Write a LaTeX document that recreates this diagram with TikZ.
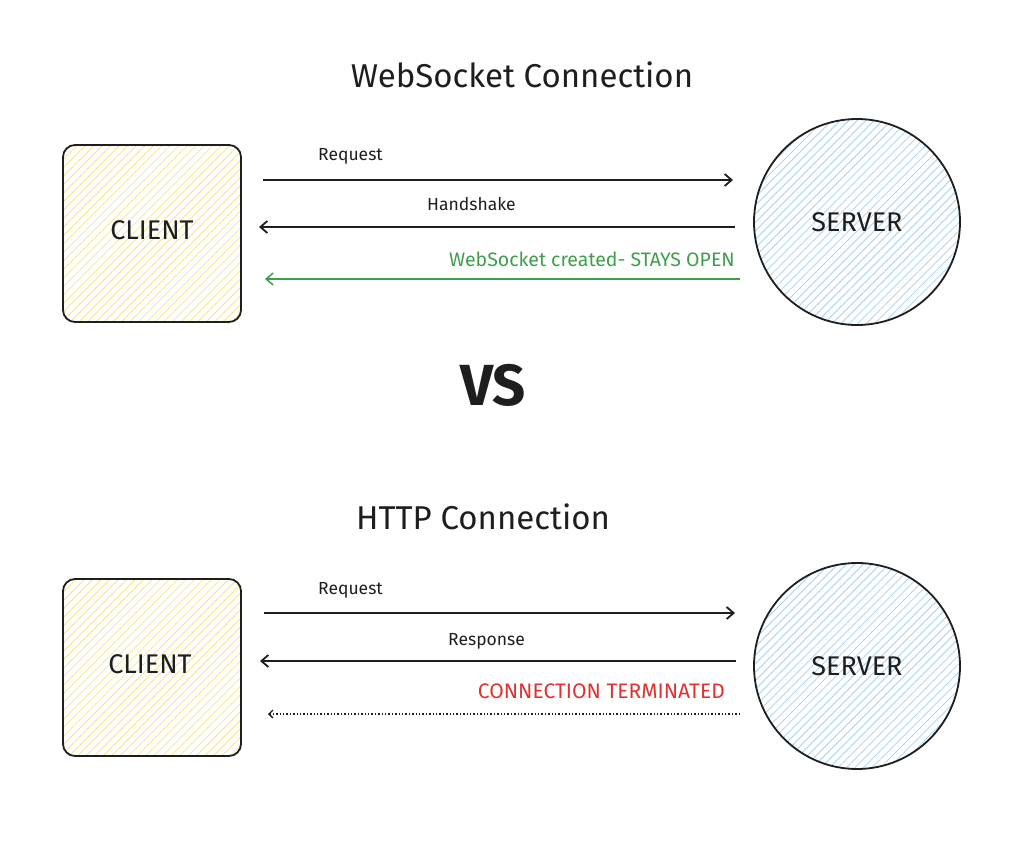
\documentclass[tikz,border=0pt]{standalone}
\usepackage{fontspec}
\setmainfont{Fira Sans}
\usetikzlibrary{arrows.meta,patterns.meta}
\definecolor{ink}{HTML}{1E1E1E}
\definecolor{cyel}{HTML}{F7E48A}
\definecolor{cblue}{HTML}{A5D0F2}
\definecolor{cgreen}{HTML}{3E9E4A}
\definecolor{cred}{HTML}{E03131}
\tikzset{
  clientbox/.style={draw=ink, line width=1.8pt, rounded corners=12pt,
    pattern={Lines[angle=45,distance=6pt,line width=0.8pt]}, pattern color=cyel},
  serverbox/.style={draw=ink, line width=1.8pt,
    pattern={Lines[angle=45,distance=6pt,line width=0.8pt]}, pattern color=cblue},
  boxlabel/.style={font=\fontsize{27}{30}\selectfont, text=ink},
  title/.style={font=\fontsize{33}{36}\selectfont, text=ink},
  lbl/.style={font=\fontsize{17.5}{20}\selectfont, text=ink, inner sep=0pt},
  capslbl/.style={font=\fontsize{19.5}{22}\selectfont, inner sep=0pt},
  msg/.style={draw=ink, line width=1.8pt, -{Straight Barb[length=7pt,width=12pt,line width=1.8pt]}},
  openmsg/.style={draw=cgreen, line width=1.5pt, -{Straight Barb[length=7pt,width=12pt,line width=1.5pt]}},
  endmsg/.style={draw=ink, line width=1.4pt, dotted, -{Straight Barb[length=4pt,width=8pt,line width=1.4pt]}},
}
\begin{document}
\begin{tikzpicture}[x=1pt,y=-1pt]
\useasboundingbox (0,0) rectangle (1015,842);
% ---------- WebSocket ----------
\node[title] (t1) at (522,75) {WebSocket Connection};
\path[clientbox] (63,145) rectangle (241,322);
\node[boxlabel] (c1) at (152,230) {CLIENT};
\path[serverbox] (857,222) circle (103);
\node[boxlabel] (s1) at (857,222) {SERVER};
\coordinate (a1s) at (263,180); \coordinate (a1e) at (733,180);
\draw[msg] (a1s) -- (a1e);
\node[lbl, anchor=west] (l1) at (318,156) {Request};
\coordinate (a2s) at (735,227); \coordinate (a2e) at (259,227);
\draw[msg] (a2s) -- (a2e);
\node[lbl, anchor=west] (l2) at (427,204) {Handshake};
\coordinate (a3s) at (740,279); \coordinate (a3e) at (265,279);
\draw[openmsg] (a3s) -- (a3e);
\node[capslbl, anchor=east, text=cgreen] (l3) at (735,259) {WebSocket created- STAYS OPEN};
% ---------- VS ----------
\node[font=\fontsize{58}{64}\selectfont\bfseries, text=ink] (vs) at (493,385) {VS};
% ---------- HTTP ----------
\node[title] (t2) at (483,517) {HTTP Connection};
\path[clientbox] (63,579) rectangle (241,756);
\node[boxlabel] (c2) at (150,664) {CLIENT};
\path[serverbox] (857,666) circle (103);
\node[boxlabel] (s2) at (857,666) {SERVER};
\coordinate (b1s) at (264,613); \coordinate (b1e) at (735,613);
\draw[msg] (b1s) -- (b1e);
\node[lbl, anchor=west] (m1) at (318,590) {Request};
\coordinate (b2s) at (736,661); \coordinate (b2e) at (260,661);
\draw[msg] (b2s) -- (b2e);
\node[lbl, anchor=west] (m2) at (448,641) {Response};
\node[capslbl, anchor=east, text=cred, font=\fontsize{21}{24}\selectfont] (m3) at (725,691) {CONNECTION TERMINATED};
\coordinate (b3s) at (740,714); \coordinate (b3e) at (268,714);
\draw[endmsg] (b3s) -- (b3e);
\end{tikzpicture}
\end{document}
